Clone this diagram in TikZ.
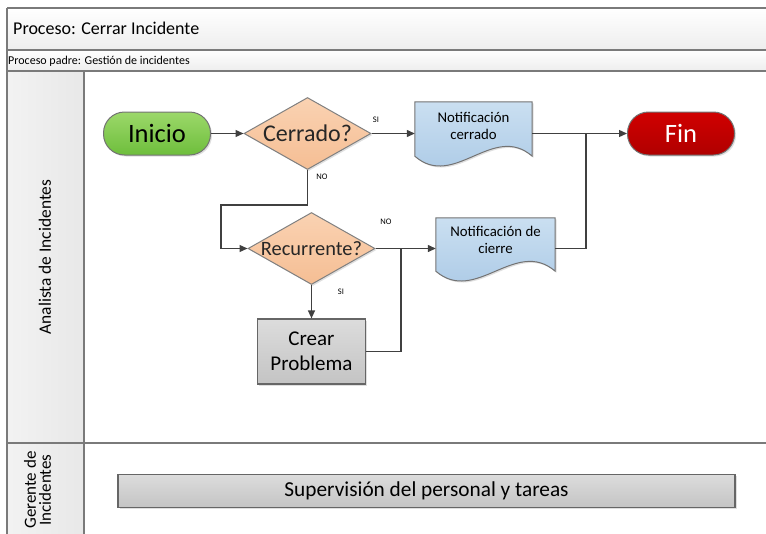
\documentclass[tikz,border=0pt]{standalone}
\usepackage{fontspec}
\setmainfont{Carlito}
\usetikzlibrary{shapes.geometric,arrows.meta,backgrounds,shadows,calc}
\definecolor{txt}{HTML}{262626}
\definecolor{frm}{HTML}{7A7A7A}
\definecolor{lnk}{HTML}{404040}
\definecolor{grnA}{HTML}{9CD86A}
\definecolor{grnB}{HTML}{6EBE3C}
\definecolor{redA}{HTML}{D00000}
\definecolor{redB}{HTML}{B00000}
\definecolor{pchA}{HTML}{FAD2B2}
\definecolor{pchB}{HTML}{F5BE94}
\definecolor{bluA}{HTML}{CADFF1}
\definecolor{bluB}{HTML}{A6C6E4}
\definecolor{gryA}{HTML}{DCDCDC}
\definecolor{gryB}{HTML}{C4C4C4}
\newcommand{\docshape}[2]{%
  \path[docfill] (#1.north west) -- (#1.north east) -- ($(#1.south east)+(0,#2)$)
    .. controls ($(#1.south west)!0.667!(#1.south east)+(0,#2-34)$) and ($(#1.south west)!0.333!(#1.south east)+(0,#2+34)$) ..
    ($(#1.south west)+(0,#2)$) -- cycle;}
\begin{document}
\begin{tikzpicture}[x=1pt,y=-1pt,
  font=\color{txt},
  frame/.style={draw=frm,line width=1.3pt},
  shad/.style={drop shadow={opacity=0.25,shadow xshift=1.5pt,shadow yshift=-1.5pt}},
  term/.style={rectangle,rounded corners=21pt,minimum width=107pt,minimum height=43pt,draw=black!55,line width=1pt,inner sep=0pt,shad,font=\fontsize{26.5}{28}\selectfont},
  dec/.style={diamond,aspect=1.76,minimum width=127pt,minimum height=72pt,inner sep=0pt,draw=black!50,line width=1pt,top color=pchA,bottom color=pchB,shad},
  docn/.style={rectangle,inner sep=0pt,align=center,font=\fontsize{14.8}{17}\selectfont},
  docfill/.style={draw=black!55,line width=1pt,top color=bluA,bottom color=bluB,shad},
  procbox/.style={rectangle,draw=black!60,line width=1.2pt,top color=gryA,bottom color=gryB,inner sep=0pt,align=center,shad},
  lbl/.style={font=\fontsize{8.5}{9}\selectfont,inner sep=0pt},
  lane/.style={rotate=90,align=center,font=\fontsize{17.4}{19}\selectfont,inner sep=0pt},
  conn/.style={draw=lnk,line width=1.3pt},
  arr/.style={conn,-{Triangle[length=8pt,width=7pt]}}]
\useasboundingbox (0,0) rectangle (766,533);
% frame
\shade[top color=white,bottom color=black!7] (7,8) rectangle (780,50);
\shade[top color=white,bottom color=black!7] (7,50) rectangle (780,71);
\shade[left color=black!5,right color=black!9] (7,71) rectangle (84,443);
\shade[left color=black!5,right color=black!9] (7,443) rectangle (84,540);
\draw[frame] (7,8) -- (780,8);
\draw[frame,line width=2pt] (7,50) -- (780,50);
\draw[frame] (7,71) -- (780,71);
\draw[frame] (7,443) -- (780,443);
\draw[frame] (7,8) -- (7,540);
\draw[frame] (84,71) -- (84,540);
\node[anchor=west,inner sep=0pt,font=\fontsize{18}{20}\selectfont] (title) at (13,28.5) {Proceso: Cerrar Incidente};
\node[anchor=west,inner sep=0pt,font=\fontsize{12}{13}\selectfont] (sub) at (8,61) {Proceso padre: Gestión de incidentes};
\node[lane] (lane1) at (45,257) {Analista de Incidentes};
\node[lane,font=\fontsize{17}{15}\selectfont] (lane2) at (37.5,490) {Gerente de\\Incidentes};
% nodes
\node[term,top color=grnA,bottom color=grnB] (ini) at (157,133.5) {Inicio};
\node[dec] (cer) at (307.5,133.5) {\fontsize{24}{26}\selectfont\makebox[0pt]{Cerrado?}};
\node[docn,minimum width=117pt,minimum height=48pt] (nce) at (473.5,126) {Notificación\\cerrado};
\node[term,top color=redA,bottom color=redB,font=\fontsize{26.5}{28}\selectfont\color{white}] (fin) at (681,133.5) {Fin};
\node[dec] (rec) at (311.5,248.5) {\fontsize{20.4}{22}\selectfont\makebox[0pt]{Recurrente?}};
\node[docn,minimum width=119pt,minimum height=44pt] (ncr) at (495.5,240) {Notificación de\\cierre};
\node[procbox,minimum width=108pt,minimum height=65pt,font=\fontsize{21}{25}\selectfont] (cp) at (311.5,351.5) {Crear\\Problema};
\node[procbox,minimum width=617pt,minimum height=33pt,font=\fontsize{21.3}{23}\selectfont] (sup) at (426.5,491) {Supervisión del personal y tareas};
\begin{scope}[on background layer]
\docshape{nce}{6}
\docshape{ncr}{9}
\end{scope}
% connectors
\coordinate (n1) at (221,205);
\coordinate (j1) at (586,133.5);
\coordinate (j2) at (401,248.5);
\draw[arr] (ini.east) -- (cer.west);
\draw[arr] (cer.east) -- (cer.east -| nce.west);
\draw[arr] (nce.east |- fin.west) -- (fin.west);
\draw[conn] (ncr.east |- rec.east) -| (j1);
\draw[arr] (cer.south) |- (n1) |- (rec.west);
\draw[arr] (rec.east) -- (rec.east -| ncr.west);
\draw[arr] (rec.south) -- (cp.north);
\draw[conn] (cp.east) -| (j2);
% labels
\node[lbl] (l1) at (376,120) {SI};
\node[lbl] (l2) at (322,177) {NO};
\node[lbl] (l3) at (386,222) {NO};
\node[lbl] (l4) at (341,292) {SI};
\end{tikzpicture}
\end{document}
